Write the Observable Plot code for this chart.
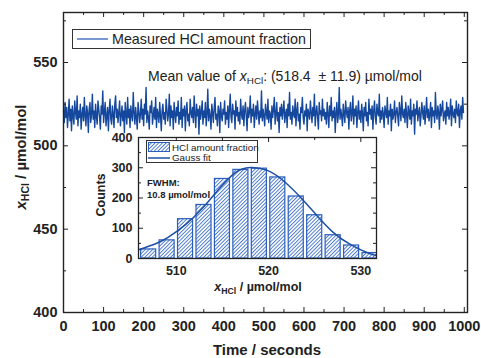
<!DOCTYPE html>
<html><head><meta charset="utf-8">
<script src="https://cdn.jsdelivr.net/npm/d3@7"></script>
<script src="https://cdn.jsdelivr.net/npm/@observablehq/plot@0.6"></script>
<style>
body{margin:0;background:#fff;}
#wrap{position:relative;width:481px;height:358px;font-family:"Liberation Sans",Arial,sans-serif;color:#222;overflow:hidden;}
.abs{position:absolute;white-space:nowrap;}
.abs sub{font-size:70%;vertical-align:-0.3em;line-height:0;}
svg{position:absolute;overflow:visible;}
</style></head><body><div id="wrap"></div>
<script>
// ---- data ----
const seriesValues = [
521,514,526,517,523,511,519,528,515,522,509,524,518,513,527,520,516,530,512,521,517,525,510,519,523,
515,529,518,512,524,520,508,522,526,514,519,531,516,521,511,525,518,513,527,522,517,510,524,519,533,
514,520,526,512,518,523,509,521,528,516,513,524,519,511,525,530,517,522,514,520,527,512,518,524,515,
521,508,526,519,513,529,517,522,511,524,518,515,532,520,513,523,517,510,526,521,514,519,528,516,522,
512,525,519,535,514,521,517,510,524,520,527,513,518,523,516,529,511,522,519,514,526,518,509,521,525,
516,520,513,528,522,515,519,531,512,524,517,521,510,526,519,514,523,518,527,513,520,516,529,511,522,
518,524,509,521,526,515,519,512,528,520,517,523,514,530,519,511,525,518,522,507,524,516,520,527,513,
521,517,526,512,519,534,515,522,518,510,525,520,514,523,529,516,519,512,524,521,508,526,518,515,522,
519,527,513,520,516,524,511,522,531,517,514,525,519,521,510,527,518,523,515,520,513,528,519,516,524,
512,521,526,518,509,523,517,520,530,514,522,518,525,511,519,524,516,527,520,513,521,517,533,515,522,
518,512,525,520,516,528,514,521,519,510,524,517,522,529,513,519,526,515,520,508,523,518,525,516,521,
527,514,519,522,511,525,518,532,516,520,513,524,519,517,528,512,521,526,515,519,510,523,520,529,517,
513,521,518,525,509,522,519,516,527,520,514,523,518,531,512,520,524,517,510,526,519,521,515,528,518,
522,516,520,513,526,519,511,524,518,529,515,521,517,523,508,520,526,514,519,535,516,522,518,512,525,
519,514,527,520,517,523,510,521,526,515,519,530,513,522,518,524,511,520,527,516,521,514,525,519,509,
523,518,526,515,520,512,528,519,522,516,524,510,521,527,517,513,525,520,518,531,514,521,516,523,519,
511,524,520,517,529,513,521,518,525,509,522,516,519,527,514,520,523,518,512,526,521,515,530,519,517,
522,514,526,519,511,524,520,516,528,513,521,518,525,507,522,519,527,515,520,523,512,518,526,520,516,
524,513,520,529,517,522,515,519,526,511,523,518,521,514,532,519,516,524,520,510,525,518,522,527,515,
519,521,513,526,518,523,516,520,528,512,524,519,517,522,514,527,520,518,525,511,521,524,516,529,520
];
const sampleInterval = 2; // seconds between samples
const timeTicks = [0,100,200,300,400,500,600,700,800,900,1000];
const timeMinorTicks = [50,150,250,350,450,550,650,750,850,950];
const yTicks = [400,450,500,550];
const yMinorTicks = [425,475,525,575];

const binStarts = [506,508,510,512,514,516,518,520,522,524,526,528,530];
const binWidth = 2;
const binCounts = [30,60,130,177,263,293,297,268,205,143,77,43,18];
const gaussX = [505.9,507.7,509.1,511.0,512.8,514.6,516.4,518.0,519.8,521.6,523.5,525.3,527.1,528.9,530.8,531.7];
const gaussY = [29,48,70,112,165,229,284,301,292,257,201,140,84,46,18,10];
const insetXTicks = [510,520,530];
const insetXMinor = [515,525];
const insetYTicks = [0,100,200,300,400];
const insetYMinor = [50,150,250,350];

// ---- main chart ----
const wrap = document.getElementById("wrap");
const FONT = "'Liberation Sans', Arial, sans-serif";
const W=481,H=358,mL=63,mR=14,mT=12,mB=46;
const fH=H-mT-mB, fW=W-mL-mR;
const series = seriesValues.map((v,i)=>({t:i*sampleInterval, v}));
const ink = "#222";
const main = Plot.plot({
  width:W,height:H,marginLeft:mL,marginRight:mR,marginTop:mT,marginBottom:mB,
  style:{fontFamily:FONT,background:"transparent",color:ink,overflow:"visible"},
  x:{domain:[0,1008]}, y:{domain:[400,580]},
  marks:[
    Plot.lineY(series,{x:"t",y:"v",stroke:"#15489c",strokeWidth:1.4}),
    Plot.ruleX(timeTicks,{x:d=>d,insetTop:fH-5,stroke:ink}),
    Plot.ruleX(timeMinorTicks,{x:d=>d,insetTop:fH-3,stroke:ink}),
    Plot.ruleX(timeTicks,{x:d=>d,insetBottom:fH-5,stroke:ink}),
    Plot.ruleX(timeMinorTicks,{x:d=>d,insetBottom:fH-3,stroke:ink}),
    Plot.ruleY(yTicks,{y:d=>d,insetRight:fW-5,stroke:ink}),
    Plot.ruleY(yMinorTicks,{y:d=>d,insetRight:fW-3,stroke:ink}),
    Plot.ruleY(yTicks,{y:d=>d,insetLeft:fW-5,stroke:ink}),
    Plot.ruleY(yMinorTicks,{y:d=>d,insetLeft:fW-3,stroke:ink}),
    Plot.frame({stroke:ink,strokeWidth:1.4}),
    Plot.axisX({ticks:timeTicks,tickSize:0,tickPadding:8,fontSize:14.5,fontWeight:"bold",label:null,tickFormat:d=>String(d)}),
    Plot.axisY({ticks:yTicks,tickSize:0,tickPadding:6,fontSize:14.5,fontWeight:"bold",label:null,tickFormat:d=>String(d)})
  ]
});
main.style.left="0px"; main.style.top="0px";
wrap.appendChild(main);

// ---- inset histogram ----
const iW=290,iH=175,imL=38,imR=14,imT=12,imB=42;
const ifH=iH-imT-imB, ifW=iW-imL-imR;
const bins = binStarts.map((s,i)=>({x1:s,x2:s+binWidth,c:binCounts[i]}));
const gauss = gaussX.map((x,i)=>({x,y:gaussY[i]}));
const barBlue="#2b5fbd", fitBlue="#1d4fa3";
const inset = Plot.plot({
  width:iW,height:iH,marginLeft:imL,marginRight:imR,marginTop:imT,marginBottom:imB,
  style:{fontFamily:FONT,background:"transparent",color:ink,overflow:"visible"},
  x:{domain:[505.9,531.7]}, y:{domain:[0,400]},
  marks:[
    Plot.frame({fill:"white"}),
    Plot.rectY(bins,{x1:"x1",x2:"x2",y:"c",fill:"url(#hatch)",stroke:barBlue,strokeWidth:1.2,insetLeft:1.7,insetRight:1.7,clip:true}),
    Plot.lineY(gauss,{x:"x",y:"y",stroke:fitBlue,strokeWidth:1.5,curve:"natural",clip:true}),
    Plot.ruleX(insetXTicks,{x:d=>d,insetBottom:ifH-5,stroke:ink}),
    Plot.ruleX(insetXMinor,{x:d=>d,insetBottom:ifH-3,stroke:ink}),
    Plot.ruleY(insetYTicks,{y:d=>d,insetRight:ifW-5,stroke:ink}),
    Plot.ruleY(insetYMinor,{y:d=>d,insetRight:ifW-3,stroke:ink}),
    Plot.ruleY(insetYTicks,{y:d=>d,insetLeft:ifW-5,stroke:ink}),
    Plot.ruleY(insetYMinor,{y:d=>d,insetLeft:ifW-3,stroke:ink}),
    Plot.frame({stroke:ink,strokeWidth:1.3}),
    Plot.axisX({ticks:insetXTicks,tickSize:0,tickPadding:8,fontSize:12.5,fontWeight:"bold",label:null,tickFormat:d=>String(d)}),
    Plot.axisY({ticks:insetYTicks,tickSize:0,tickPadding:6,fontSize:12.5,fontWeight:"bold",label:null,tickFormat:d=>String(d)})
  ]
});
const NS="http://www.w3.org/2000/svg";
const defs=document.createElementNS(NS,"defs");
defs.innerHTML=`<pattern id="hatch" patternUnits="userSpaceOnUse" width="2.6" height="2.6" patternTransform="rotate(45)"><rect width="2.6" height="2.6" fill="white"/><line x1="0.5" y1="0" x2="0.5" y2="2.6" stroke="#3d6fcc" stroke-width="0.9"/></pattern>`;
inset.insertBefore(defs, inset.firstChild);
inset.style.left="100px"; inset.style.top="125px";
wrap.appendChild(inset);

// ---- text overlays ----
function addText(html, css){
  const d=document.createElement("div"); d.className="abs"; d.innerHTML=html;
  Object.assign(d.style, css); wrap.appendChild(d); return d;
}
// main legend
addText(`<svg width="32" height="4" style="position:absolute;left:4px;top:7px;overflow:visible"><line x1="0" y1="2" x2="31" y2="2" stroke="#4a76c4" stroke-width="1.5"/></svg><span style="position:absolute;left:39px;top:2px;font-size:14.3px;line-height:14.3px">Measured HCl amount fraction</span>`,
  {left:"72px",top:"29px",width:"237px",height:"18px",border:"1px solid #333",background:"white"});
// mean value text
addText(`Mean value of <i>x</i><sub>HCl</sub>: (518.4 &nbsp;± 11.9) µmol/mol`,
  {left:"148px",top:"69px",fontSize:"14px",lineHeight:"14px"});
// main y label
addText(`<b><i>x</i><sub>HCl</sub> / µmol/mol</b>`,
  {left:"20px",top:"157px",fontSize:"15px",lineHeight:"15px",transform:"translate(-50%,-50%) rotate(-90deg)"});
// main x label
addText(`<b>Time / seconds</b>`,
  {left:"267px",top:"342px",fontSize:"15px",lineHeight:"15px",transform:"translateX(-50%)"});
// inset y label
addText(`<b>Counts</b>`,
  {left:"101px",top:"195px",fontSize:"12.5px",lineHeight:"12.5px",transform:"translate(-50%,-50%) rotate(-90deg)"});
// inset x label
addText(`<b><i>x</i><sub>HCl</sub> / µmol/mol</b>`,
  {left:"258px",top:"281px",fontSize:"12.5px",lineHeight:"12.5px",transform:"translateX(-50%)"});
// FWHM
addText(`<b>FWHM:</b>`,{left:"147px",top:"178px",fontSize:"9.5px",lineHeight:"9.5px"});
addText(`<b>10.8 µmol/mol</b>`,{left:"147px",top:"189.5px",fontSize:"9.5px",lineHeight:"9.5px"});
// inset legend
addText(`<svg width="24" height="10" style="position:absolute;left:1px;top:1px;overflow:visible"><rect x="0.5" y="0.5" width="21" height="9" fill="url(#hatch)" stroke="${barBlue}" stroke-width="1"/></svg>
<span style="position:absolute;left:25px;top:1.5px;font-size:9.8px;line-height:9.8px">HCl amount fraction</span>
<svg width="24" height="4" style="position:absolute;left:1px;top:15px;overflow:visible"><line x1="0" y1="2" x2="22" y2="2" stroke="${fitBlue}" stroke-width="1.5"/></svg>
<span style="position:absolute;left:25px;top:12px;font-size:9.8px;line-height:9.8px">Gauss fit</span>`,
  {left:"146px",top:"140px",width:"110px",height:"21px",border:"1px solid #333",background:"white"});
</script></body></html>
